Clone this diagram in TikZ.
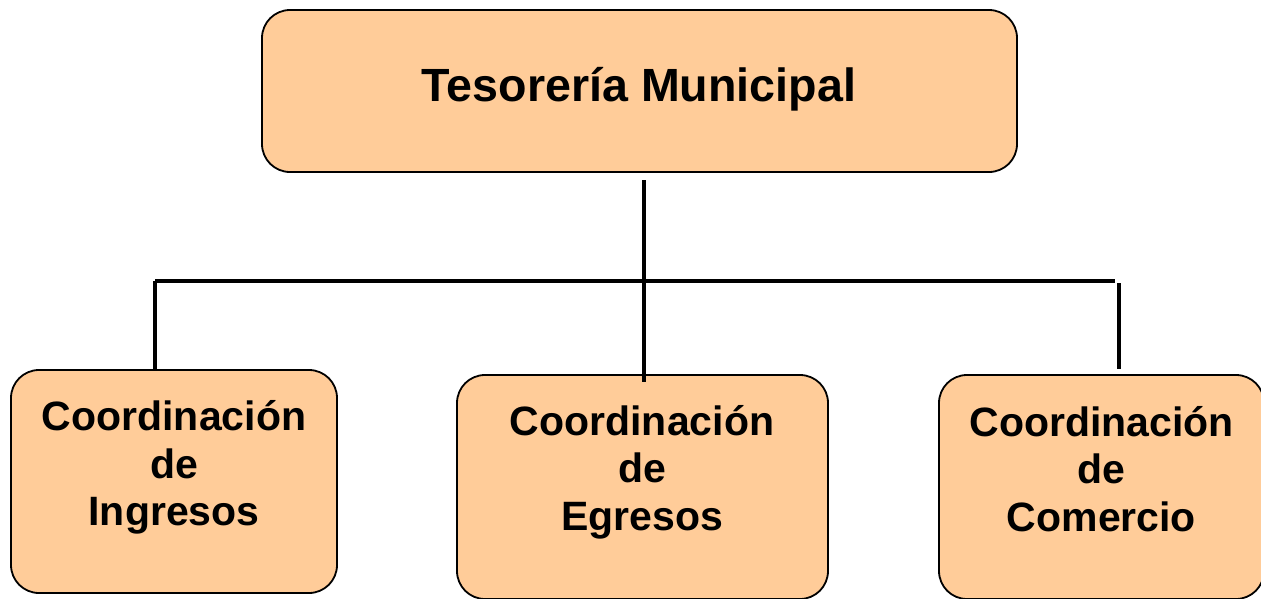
\documentclass[tikz,border=0pt]{standalone}
\usepackage{fontspec}
\setmainfont{Liberation Sans}
\definecolor{peach}{HTML}{FFCC99}
\begin{document}
\begin{tikzpicture}[x=1pt,y=-1pt,
  box/.style={draw=black, line width=1.8pt, fill=peach, rounded corners=28pt, inner sep=0pt},
  subtxt/.style={font=\bfseries\fontsize{41}{47.5}\selectfont, align=center, inner sep=0pt, anchor=north},
  toptxt/.style={font=\bfseries\fontsize{46.6}{56}\selectfont, inner sep=0pt, anchor=base},
  conn/.style={draw=black, line width=4pt}]
\useasboundingbox (0,0) rectangle (1261,598);
% boxes
\node[box, minimum width=755pt, minimum height=162pt] (tes) at (639.5,91) {};
\node[toptxt] (testxt) at (639,101) {Tesorería Municipal};
\node[box, minimum width=326pt, minimum height=223pt] (ing) at (174,481.5) {};
\node[subtxt] (ingtxt) at (174,400.5) {Coordinación\\de\\Ingresos};
\node[box, minimum width=371pt, minimum height=224pt] (egr) at (642.5,487) {};
\node[subtxt] (egrtxt) at (642,405) {Coordinación\\de\\Egresos};
\node[box, minimum width=325pt, minimum height=224pt] (com) at (1101.5,487) {};
\node[subtxt] (comtxt) at (1101.5,406) {Coordinación\\de\\Comercio};
% connectors
\coordinate (c1) at (644,180);
\coordinate (c2) at (644,382);
\coordinate (hl) at (155,281);
\coordinate (hr) at (1115,281);
\coordinate (ltop) at (155,281);
\coordinate (lbot) at (155,370);
\coordinate (rtop) at (1119,283);
\coordinate (rbot) at (1119,369);
\draw[conn] (c1) -- (c2);
\draw[conn] (hr) -- (hl);
\draw[conn] (ltop) -- (lbot);
\draw[conn] (rtop) -- (rbot);
\end{tikzpicture}
\end{document}
